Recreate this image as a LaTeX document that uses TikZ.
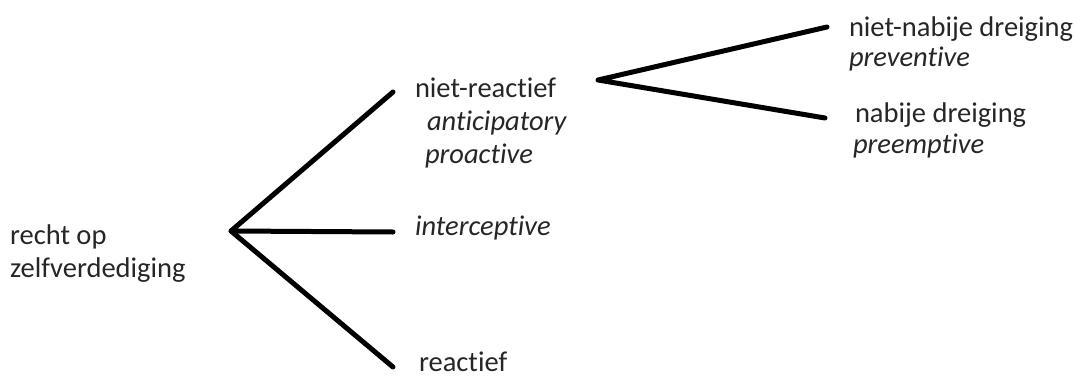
\documentclass[tikz,border=0pt]{standalone}
\usepackage{fontspec}
\setmainfont[Ligatures=NoCommon]{Carlito}
\definecolor{txt}{HTML}{262626}
\begin{document}
\begin{tikzpicture}[x=1pt,y=-1pt,
  lbl/.style={anchor=base west,inner sep=0pt,outer sep=0pt,text=txt,font=\fontsize{28.5}{33}\selectfont},
  branch/.style={line width=5pt,line cap=round,line join=round}]
\useasboundingbox (0,0) rectangle (1074,378);
% texts
\node[lbl] (root1) at (10,244) {recht op};
\node[lbl] (root2) at (10,277) {zelfverdediging};
\node[lbl] (nr) at (415,97) {niet-reactief};
\node[lbl] (ant) at (427,130) {\itshape anticipatory};
\node[lbl] (pro) at (425,163) {\itshape proactive};
\node[lbl] (int) at (415,235) {\itshape interceptive};
\node[lbl] (re) at (419,371) {reactief};
\node[lbl] (nnd) at (849,36) {niet-nabije dreiging};
\node[lbl] (prev) at (849,66) {\itshape preventive};
\node[lbl] (nd) at (855,122) {nabije dreiging};
\node[lbl] (pree) at (853,153) {\itshape preemptive};
% connector points
\coordinate (v1) at (231,231);
\coordinate (e1) at (393,92);
\coordinate (e2) at (393,232);
\coordinate (e3) at (393,367);
\coordinate (v2) at (598,80);
\coordinate (f1) at (827,27);
\coordinate (f2) at (825,118);
\draw[branch] (e1) -- (v1) -- (e2);
\draw[branch] (v1) -- (e3);
\draw[branch] (f1) -- (v2) -- (f2);
\end{tikzpicture}
\end{document}
